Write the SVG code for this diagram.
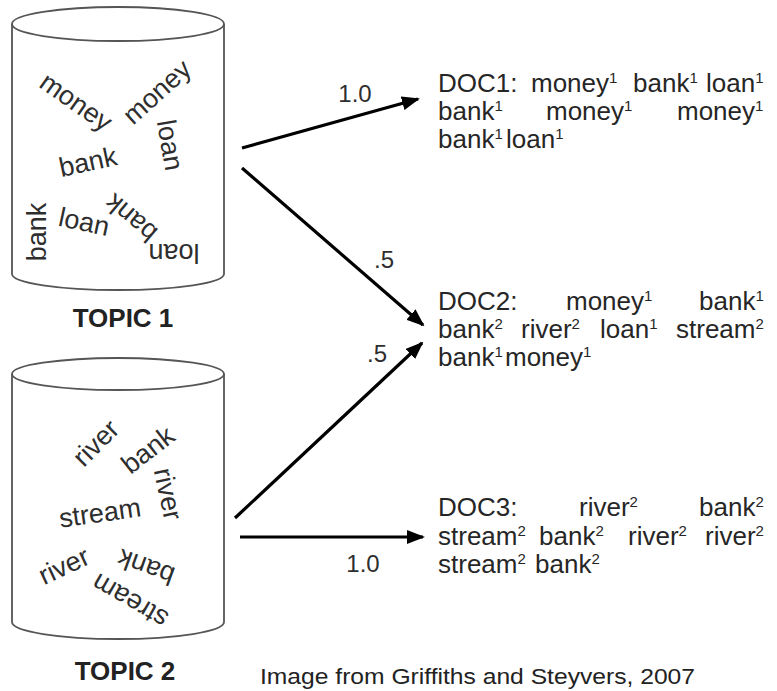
<svg xmlns="http://www.w3.org/2000/svg" width="777" height="691" viewBox="0 0 777 691">
<defs>
<style>
.cyl{fill:none;stroke:#555;stroke-width:1.8}
.w{font-family:"Liberation Sans",Arial,sans-serif;font-size:27px;fill:#2e2e2e;text-anchor:middle;dominant-baseline:central}
.topic{font-family:"Liberation Sans",Arial,sans-serif;font-size:26px;font-weight:bold;fill:#222;text-anchor:middle}
.doc{font-family:"Liberation Sans",Arial,sans-serif;font-size:26px;fill:#262626}
.sup{font-size:15px}
.lbl{font-family:"Liberation Sans",Arial,sans-serif;font-size:24px;fill:#2e2e2e;text-anchor:middle}
.edge{stroke:#000;stroke-width:3.2;fill:none;marker-end:url(#ah)}
.cap{font-family:"Liberation Sans",Arial,sans-serif;font-size:22px;fill:#222}
</style>
<marker id="ah" viewBox="0 0 18 14" markerWidth="18" markerHeight="14" refX="16" refY="7" orient="auto" markerUnits="userSpaceOnUse">
<path d="M0,0 L18,7 L0,14 z" fill="#000"/>
</marker>
</defs>
<rect width="777" height="691" fill="#fff"/>

<g id="topic1">
<ellipse class="cyl" cx="118" cy="24" rx="106" ry="17"/>
<path class="cyl" d="M12,24 L12,274 A106,16 0 0 0 224,274 L224,24"/>
<text class="w" transform="translate(76,102) rotate(35)">money</text>
<text class="w" transform="translate(157,92) rotate(-42)">money</text>
<text class="w" transform="translate(170,145) rotate(80)">loan</text>
<text class="w" transform="translate(88,162) rotate(-12)">bank</text>
<text class="w" transform="translate(37,232) rotate(-90)">bank</text>
<text class="w" transform="translate(84,222) rotate(12)">loan</text>
<text class="w" transform="translate(131,218) rotate(220)">bank</text>
<text class="w" transform="translate(174,253) rotate(180)">loan</text>
<text class="topic" x="123" y="327">TOPIC 1</text>
</g>

<g id="topic2">
<ellipse class="cyl" cx="118" cy="374" rx="106" ry="16"/>
<path class="cyl" d="M12,374 L12,622 A106,17 0 0 0 224,622 L224,374"/>
<text class="w" transform="translate(96,443) rotate(-45)">river</text>
<text class="w" transform="translate(148,450) rotate(-38)">bank</text>
<text class="w" transform="translate(168,494) rotate(78)">river</text>
<text class="w" transform="translate(100,513) rotate(-8)">stream</text>
<text class="w" transform="translate(64,566) rotate(-25)">river</text>
<text class="w" transform="translate(146,567) rotate(200)">bank</text>
<text class="w" transform="translate(130,601) rotate(210)">stream</text>
<text class="topic" x="125" y="680">TOPIC 2</text>
</g>

<g id="doc1">
<text class="doc" y="92"><tspan x="438">DOC1:</tspan><tspan x="531">money</tspan><tspan class="sup" dy="-9">1</tspan><tspan x="633" dy="9">bank</tspan><tspan class="sup" dy="-9">1</tspan><tspan x="706" dy="9">loan</tspan><tspan class="sup" dy="-9">1</tspan></text>
<text class="doc" y="120"><tspan x="438">bank</tspan><tspan class="sup" dy="-9">1</tspan><tspan x="546" dy="9">money</tspan><tspan class="sup" dy="-9">1</tspan><tspan x="677" dy="9">money</tspan><tspan class="sup" dy="-9">1</tspan></text>
<text class="doc" y="148"><tspan x="438">bank</tspan><tspan class="sup" dy="-9">1</tspan><tspan x="506" dy="9">loan</tspan><tspan class="sup" dy="-9">1</tspan></text>
</g>

<g id="doc2">
<text class="doc" y="310"><tspan x="438">DOC2:</tspan><tspan x="566">money</tspan><tspan class="sup" dy="-9">1</tspan><tspan x="699" dy="9">bank</tspan><tspan class="sup" dy="-9">1</tspan></text>
<text class="doc" y="338"><tspan x="438">bank</tspan><tspan class="sup" dy="-9">2</tspan><tspan x="521" dy="9">river</tspan><tspan class="sup" dy="-9">2</tspan><tspan x="600" dy="9">loan</tspan><tspan class="sup" dy="-9">1</tspan><tspan x="676" dy="9">stream</tspan><tspan class="sup" dy="-9">2</tspan></text>
<text class="doc" y="366"><tspan x="438">bank</tspan><tspan class="sup" dy="-9">1</tspan><tspan x="505" dy="9">money</tspan><tspan class="sup" dy="-9">1</tspan></text>
</g>

<g id="doc3">
<text class="doc" y="516"><tspan x="438">DOC3:</tspan><tspan x="579">river</tspan><tspan class="sup" dy="-9">2</tspan><tspan x="699" dy="9">bank</tspan><tspan class="sup" dy="-9">2</tspan></text>
<text class="doc" y="545"><tspan x="438">stream</tspan><tspan class="sup" dy="-9">2</tspan><tspan x="539" dy="9">bank</tspan><tspan class="sup" dy="-9">2</tspan><tspan x="628" dy="9">river</tspan><tspan class="sup" dy="-9">2</tspan><tspan x="705" dy="9">river</tspan><tspan class="sup" dy="-9">2</tspan></text>
<text class="doc" y="573"><tspan x="438">stream</tspan><tspan class="sup" dy="-9">2</tspan><tspan x="535" dy="9">bank</tspan><tspan class="sup" dy="-9">2</tspan></text>
</g>

<g id="connectors">
<line class="edge" x1="242" y1="148" x2="418" y2="99"/>
<line class="edge" x1="242" y1="168" x2="423" y2="325"/>
<line class="edge" x1="235" y1="518" x2="422" y2="343"/>
<line class="edge" x1="240" y1="537" x2="423" y2="537"/>
<text class="lbl" x="355" y="102">1.0</text>
<text class="lbl" x="384" y="268">.5</text>
<text class="lbl" x="377" y="362">.5</text>
<text class="lbl" x="363" y="572">1.0</text>
</g>

<text class="cap" x="260" y="684" textLength="435" lengthAdjust="spacingAndGlyphs">Image from Griffiths and Steyvers, 2007</text>
</svg>
